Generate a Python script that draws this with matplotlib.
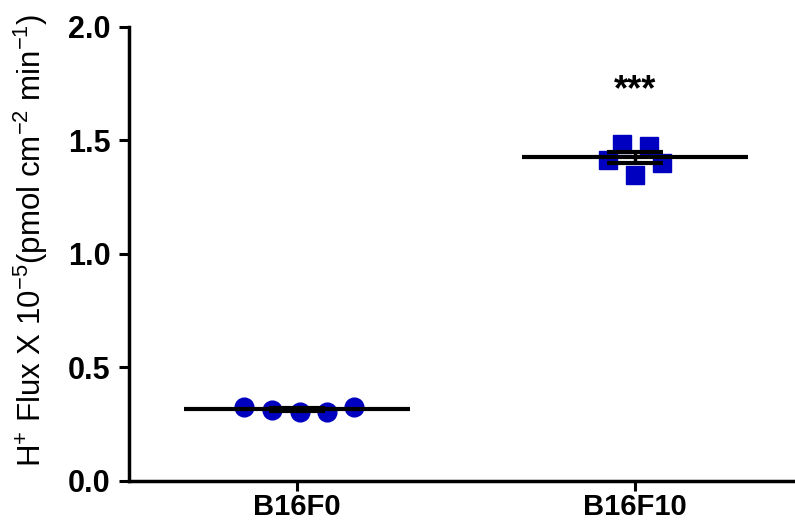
import numpy as np
import matplotlib
matplotlib.use("Agg")
import matplotlib.pyplot as plt

plt.rcParams["font.family"] = ["Liberation Sans", "DejaVu Sans"]
plt.rcParams["mathtext.fontset"] = "custom"
plt.rcParams["mathtext.rm"] = "Liberation Sans"
plt.rcParams["mathtext.it"] = "Liberation Sans"
plt.rcParams["mathtext.bf"] = "Liberation Sans:bold"

# data
groups = ["B16F0", "B16F10"]
b16f0 = [0.328, 0.313, 0.303, 0.306, 0.326]
b16f10 = [1.414, 1.486, 1.348, 1.477, 1.402]
signif = "***"

BLUE = "#0000C0"
# horizontal scatter of the points inside each column
spread_f0 = np.array([-0.155, -0.075, 0.01, 0.09, 0.17])
spread_f10 = np.array([-0.08, -0.04, 0.0, 0.04, 0.08])

fig = plt.figure(figsize=(7.95, 5.27), dpi=100)
ax = fig.add_axes([0.162, 0.0873, 0.838, 0.8615])

cols = [(b16f0, "o", spread_f0), (b16f10, "s", spread_f10)]
for i, (vals, mk, sp) in enumerate(cols):
    v = np.asarray(vals)
    ax.plot(i + sp, v, ls="none", marker=mk, ms=13.5, color=BLUE,
            mec=BLUE, zorder=3)
    m = v.mean()
    sem = v.std(ddof=1) / np.sqrt(len(v))
    ax.hlines(m, i - 0.335, i + 0.335, color="black", lw=3, zorder=4)
    ax.errorbar(i, m, yerr=sem, fmt="none", ecolor="black", elinewidth=2.5,
                capsize=20, capthick=3, zorder=5)

ax.text(1, 1.72, signif, ha="center", va="center", fontsize=26,
        fontweight="bold")

ax.set_xlim(-0.497, 1.473)
ax.set_ylim(0, 2.0)
ax.set_yticks([0.0, 0.5, 1.0, 1.5, 2.0])
ax.set_yticklabels(["0.0", "0.5", "1.0", "1.5", "2.0"])
ax.set_xticks([0, 1])
ax.set_xticklabels(groups)
for lab in ax.get_yticklabels():
    lab.set_fontweight("bold")
    lab.set_fontsize(22)
for lab in ax.get_xticklabels():
    lab.set_fontweight("bold")
    lab.set_fontsize(21)
ax.tick_params(axis="both", width=2.2, length=7, direction="out")
ax.tick_params(axis="y", pad=6)
ax.tick_params(axis="x", pad=2)
ax.spines["top"].set_visible(False)
ax.spines["right"].set_visible(False)
for s in ("left", "bottom"):
    ax.spines[s].set_linewidth(2.5)

ax.set_ylabel(r"H$^{+}$ Flux X 10$^{-5}$(pmol cm$^{-2}$ min$^{-1}$)",
              fontsize=22.5)
ax.yaxis.set_label_coords(-0.118, 0.53)

fig.savefig("out.png", dpi=100)
